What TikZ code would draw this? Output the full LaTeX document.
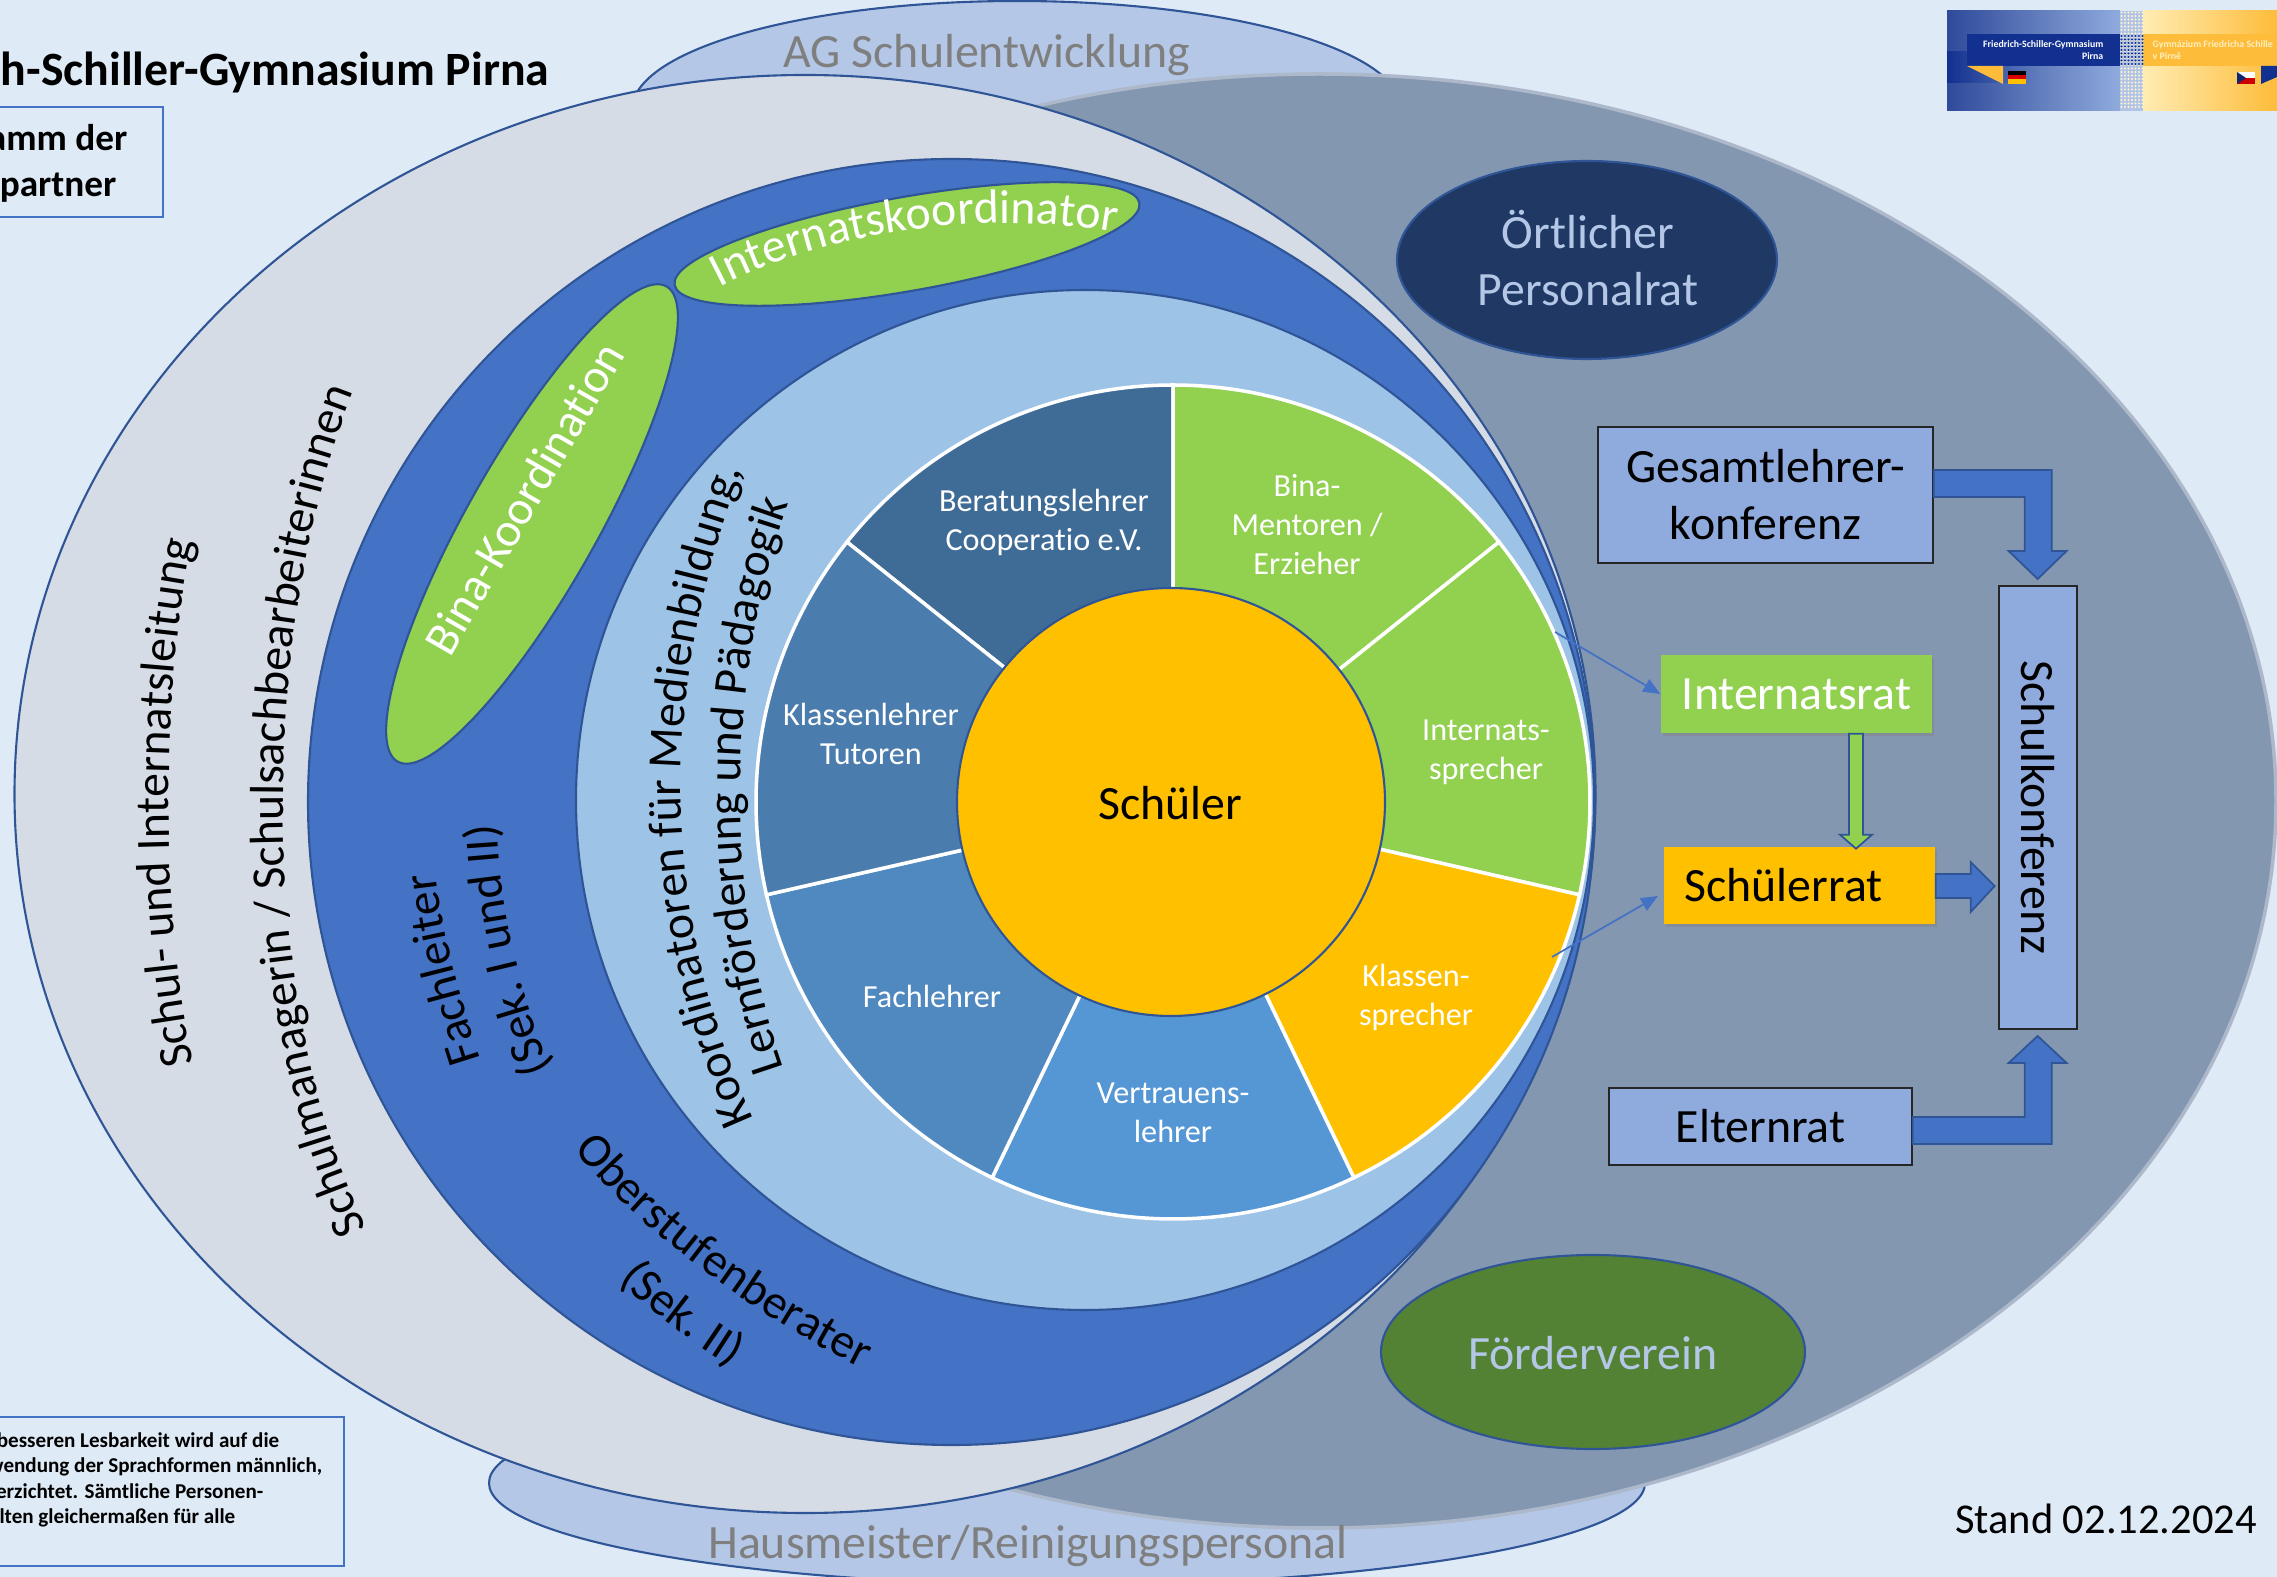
\documentclass[tikz,border=0pt]{standalone}
\usepackage{fontspec}
\setmainfont{Carlito}[Ligatures=NoCommon]
\usetikzlibrary{arrows.meta,shadows,decorations.text}
\definecolor{pagebg}{HTML}{DEEAF6}
\definecolor{ringline}{HTML}{2F5597}
\definecolor{paleblue}{HTML}{B4C7E7}
\definecolor{slate}{HTML}{8497B0}
\definecolor{slateline}{HTML}{ADB9CA}
\definecolor{ringgray}{HTML}{D6DCE5}
\definecolor{ringblue}{HTML}{4472C4}
\definecolor{ringsky}{HTML}{9DC3E6}
\definecolor{leafgreen}{HTML}{92D050}
\definecolor{amber}{HTML}{FFC000}
\definecolor{boxblue}{HTML}{8FAADC}
\definecolor{navy}{HTML}{1F3864}
\definecolor{moss}{HTML}{548235}
\definecolor{sliceA}{HTML}{3F6C97}
\definecolor{sliceB}{HTML}{4A7CAE}
\definecolor{sliceC}{HTML}{5088C0}
\definecolor{sliceD}{HTML}{5597D5}
\definecolor{grayword}{HTML}{7F7F7F}
\definecolor{logoblue}{HTML}{2F4A9A}
\definecolor{logoband}{HTML}{12308F}
\definecolor{logogold}{HTML}{FDBC3A}
\newcommand{\bigtype}{\fontsize{13.6}{16.2}\selectfont}
\newcommand{\pietype}{\fontsize{9.15}{11.1}\selectfont}
\tikzset{
	oval/.style={draw=ringline, line width=0.6pt},
	slice/.style={draw=white, line width=1pt},
	label/.style={inner sep=0pt, align=center, font=\bigtype},
	pielabel/.style={inner sep=0pt, align=center, font=\pietype, text=white},
	ratbox/.style={draw=black!85, line width=0.35pt, fill=boxblue, inner sep=0pt, align=center, font=\bigtype},
	liftbox/.style={fill=#1, inner sep=0pt, align=center, font=\bigtype, drop shadow={shadow xshift=0.02cm, shadow yshift=-0.03cm, opacity=0.45}},
	noticebox/.style={draw=ringblue, line width=0.4pt},
	noticetext/.style={inner sep=0pt, font=\bfseries\fontsize{6}{7}\selectfont},
	blockarrow/.style={draw=ringline, line width=0.5pt, fill=ringblue},
	thinarrow/.style={ringblue, line width=0.5pt, -{Triangle[length=0.17cm, width=0.14cm]}},
	curvetext/.style={decorate, decoration={text along path, text align=center, text={#1}}}
}
\begin{document}
\begin{tikzpicture}
	\useasboundingbox (0,0) rectangle (22.77,-15.77);
	\fill [pagebg] (0,0) rectangle (22.77,-15.77);

	%side ellipses and rings
	\draw [oval, fill=paleblue] (10.17,-1.10) ellipse (3.85 and 1.09);
	\draw [oval, fill=paleblue] (10.67,-14.83) ellipse (5.78 and 1.02);
	\draw [draw=slateline, line width=1pt, fill=slate] (13.19,-8.01) ellipse (9.57 and 7.27);
	\draw [oval, fill=ringgray] (8.05,-7.94) ellipse (7.905 and 7.19);
	\draw [oval, fill=ringblue] (9.515,-8.02) ellipse (6.435 and 6.43);
	\draw [oval, fill=ringsky] (10.85,-8.00) ellipse (5.09 and 5.10);
	\draw [oval, fill=leafgreen, rotate around={10:(9.07,-2.44)}] (9.07,-2.44) ellipse (2.36 and 0.47);
	\draw [oval, fill=leafgreen, rotate around={60.5:(5.32,-5.24)}] (5.32,-5.24) ellipse (2.73 and 0.65);

	%wheel
	\draw [slice, fill=sliceA] (11.73,-8.02) -- ++(90:4.17) arc (90:141.43:4.17) -- cycle;
	\draw [slice, fill=leafgreen] (11.73,-8.02) -- ++(38.57:4.17) arc (38.57:90:4.17) -- cycle;
	\draw [slice, fill=leafgreen] (11.73,-8.02) -- ++(-12.86:4.17) arc (-12.86:38.57:4.17) -- cycle;
	\draw [slice, fill=amber] (11.73,-8.02) -- ++(-64.29:4.17) arc (-64.29:-12.86:4.17) -- cycle;
	\draw [slice, fill=sliceD] (11.73,-8.02) -- ++(-115.71:4.17) arc (-115.71:-64.29:4.17) -- cycle;
	\draw [slice, fill=sliceC] (11.73,-8.02) -- ++(-167.14:4.17) arc (-167.14:-115.71:4.17) -- cycle;
	\draw [slice, fill=sliceB] (11.73,-8.02) -- ++(141.43:4.17) arc (141.43:192.86:4.17) -- cycle;
	\draw [oval, fill=amber] (11.71,-8.02) circle (2.14);

	%wheel labels
	\node [label] (schueler) at (11.70,-8.03) {Schüler};
	\node [pielabel] (beratung) at (10.44,-5.22) {Beratungslehrer\\Cooperatio e.V.};
	\node [pielabel] (mentoren) at (13.07,-5.25) {Bina-\\Mentoren /\\Erzieher};
	\node [pielabel] (internatssprecher) at (14.86,-7.52) {Internats-\\sprecher};
	\node [pielabel] (klassensprecher) at (14.16,-9.97) {Klassen-\\sprecher};
	\node [pielabel] (vertrauen) at (11.73,-11.13) {Vertrauens-\\lehrer};
	\node [pielabel] (fachlehrer) at (9.32,-9.96) {Fachlehrer};
	\node [pielabel] (klassenlehrer) at (8.71,-7.34) {Klassenlehrer\\Tutoren};

	%ring labels
	\node [label, text=grayword] (schulentwicklung) at (9.87,-0.55) {AG Schulentwicklung};
	\node [label, text=grayword] (hausmeister) at (10.28,-15.46) {Hausmeister/Reinigungspersonal};
	\path [curvetext={|\bigtype|Schul- und Internatsleitung}] (1.96,-10.75) .. controls (1.60,-9.30) and (1.60,-6.80) .. (1.95,-5.30);
	\path [curvetext={|\bigtype|Schulmanagerin / Schulsachbearbeiterinnen}] (3.65,-12.25) .. controls (2.58,-10.00) and (2.58,-6.40) .. (3.52,-3.95);
	\path [curvetext={|\bigtype|Fachleiter}] (4.80,-10.58) .. controls (4.58,-9.90) and (4.42,-9.30) .. (4.36,-8.75);
	\path [curvetext={|\bigtype|(Sek. I und II)}] (5.52,-10.70) .. controls (5.17,-9.90) and (5.00,-9.00) .. (4.97,-8.22);
	\path [curvetext={|\bigtype|Koordinatoren für Medienbildung,}] (7.56,-11.25) .. controls (6.58,-9.10) and (6.58,-6.90) .. (7.44,-4.65);
	\path [curvetext={|\bigtype|Lernförderung und Pädagogik}] (7.83,-10.67) .. controls (7.25,-9.00) and (7.25,-6.80) .. (7.88,-5.05);
	\path [curvetext={|\bigtype|Oberstufenberater}] (5.72,-11.47) .. controls (6.35,-12.27) and (7.52,-13.14) .. (8.65,-13.70);
	\path [curvetext={|\bigtype|(Sek. II)}] (6.20,-12.82) .. controls (6.50,-13.10) and (6.90,-13.42) .. (7.30,-13.66);
	\path [curvetext={|\bigtype\color{white}|Internatskoordinator}] (7.16,-2.89) .. controls (8.20,-2.33) and (9.80,-2.08) .. (11.20,-2.33);
	\node [label, text=white, rotate=60] (binakoordination) at (5.24,-4.98) {Bina-Koordination};

	%right side
	\draw [oval, fill=navy] (15.87,-2.60) ellipse (1.90 and 0.99);
	\node [label, text=paleblue] (personalrat) at (15.88,-2.58) {Örtlicher\\Personalrat};
	\draw [oval, fill=moss] (15.93,-13.52) ellipse (2.12 and 0.97);
	\node [label, text=paleblue] (foerderverein) at (15.93,-13.53) {Förderverein};

	\node [ratbox, minimum width=3.35cm, minimum height=1.36cm] (gesamtlehrer) at (17.655,-4.95) {Gesamtlehrer-\\konferenz};
	\node [ratbox, minimum width=3.03cm, minimum height=0.77cm] (elternrat) at (17.605,-11.265) {Elternrat};
	\node [ratbox, rotate=-90, minimum width=4.43cm, minimum height=0.78cm] (schulkonferenz) at (20.38,-8.075) {Schulkonferenz};
	\node [liftbox=leafgreen, text=white, minimum width=2.71cm, minimum height=0.78cm] (internatsrat) at (17.965,-6.94) {Internatsrat};
	\node [liftbox=amber, minimum width=2.71cm, minimum height=0.77cm] (schuelerrat) at (17.995,-8.855) {Schülerrat\hspace{0.32cm}};

	\draw [blockarrow] ([yshift=0.25cm]gesamtlehrer.east) -- ++(1.18,0) -- ++(0,-0.81) -- ++(0.15,0) -- ++(-0.29,-0.28) -- ++(-0.29,0.28) -- ++(0.16,0) -- ++(0,0.54) -- ++(-0.91,0) -- cycle;
	\draw [blockarrow] ([yshift=-0.175cm]elternrat.east) -- ++(1.39,0) -- ++(0,0.81) -- ++(0.15,0) -- ++(-0.29,0.27) -- ++(-0.29,-0.27) -- ++(0.16,0) -- ++(0,-0.54) -- ++(-1.12,0) -- cycle;
	\draw [blockarrow] ([yshift=0.115cm]schuelerrat.east) -- ++(0.35,0) -- ++(0,0.12) -- ++(0.24,-0.24) -- ++(-0.24,-0.26) -- ++(0,0.14) -- ++(-0.35,0) -- cycle;
	\draw [blockarrow, fill=leafgreen] ([xshift=0.525cm]internatsrat.south) -- ++(0.14,0) -- ++(0,-1.01) -- ++(0.09,0) -- ++(-0.16,-0.14) -- ++(-0.16,0.14) -- ++(0.09,0) -- cycle;

	\coordinate (sprecherA) at (15.55,-6.32);
	\coordinate (sprecherB) at (15.52,-9.57);
	\coordinate (schuelerratIn) at (16.58,-8.96);
	\draw [thinarrow] (sprecherA) -- (internatsrat.west);
	\draw [thinarrow] (sprecherB) -- (schuelerratIn);

	%title and notices
	\node [inner sep=0pt, anchor=base east, font=\bfseries\fontsize{13.6}{15}\selectfont] (titel) at (5.50,-0.86) {h-Schiller-Gymnasium Pirna};
	\draw [noticebox] (-0.2,-1.07) rectangle (1.63,-2.17);
	\node [noticetext, anchor=base east, font=\bfseries\fontsize{10.6}{12}\selectfont] (kopfA) at (1.28,-1.51) {amm der};
	\node [noticetext, anchor=base east, font=\bfseries\fontsize{10.6}{12}\selectfont] (kopfB) at (1.17,-1.97) {partner};
	\draw [noticebox] (-0.2,-14.17) rectangle (3.44,-15.66);
	\node [noticetext, anchor=base east] (hinweisA) at (2.80,-14.47) {besseren Lesbarkeit wird auf die};
	\node [noticetext, anchor=base east] (hinweisB) at (3.23,-14.72) {wendung der Sprachformen männlich,};
	\node [noticetext, anchor=base east] (hinweisC) at (2.64,-14.98) {erzichtet. Sämtliche Personen-};
	\node [noticetext, anchor=base east] (hinweisD) at (2.36,-15.23) {lten gleichermaßen für alle};
	\node [inner sep=0pt, font=\fontsize{12.1}{14}\selectfont] (stand) at (21.06,-15.19) {Stand 02.12.2024};

	%logo
	\shade [left color=logoblue, right color=boxblue] (19.47,-0.11) rectangle (21.20,-1.11);
	\shade [left color=logoband, right color=logoblue!46!boxblue] (19.47,-0.52) rectangle (20.40,-0.83);
	\shade [left color=amber!30, right color=logogold] (21.43,-0.11) rectangle (22.77,-1.11);
	\fill [boxblue!70] (21.20,-0.11) rectangle (21.43,-1.11);
	\fill [logoband] (19.67,-0.34) rectangle (21.20,-0.66);
	\fill [logogold] (21.43,-0.34) rectangle (22.77,-0.66);
	\foreach \col in {0,...,6}
		\foreach \row in {0,...,27}
			\fill [white!80!amber] (21.215+\col*0.035,-0.125-\row*0.035) circle (0.011);
	\foreach \col in {0,...,6}
		\foreach \row in {0,...,8}
			\fill [logoband] (21.215+\col*0.035,-0.36-\row*0.035) circle (0.012);
	\fill [logogold] (19.67,-0.66) -- (20.03,-0.66) -- (20.03,-0.84) -- cycle;
	\fill [black] (20.08,-0.71) rectangle (20.26,-0.75);
	\fill [red!85!black] (20.08,-0.75) rectangle (20.26,-0.795);
	\fill [amber] (20.08,-0.795) rectangle (20.26,-0.84);
	\fill [white] (22.37,-0.72) rectangle (22.55,-0.78);
	\fill [red!80!black] (22.37,-0.78) rectangle (22.55,-0.84);
	\fill [logoband!80!black] (22.37,-0.72) -- (22.46,-0.78) -- (22.37,-0.84) -- cycle;
	\fill [logoband] (22.61,-0.66) -- (22.77,-0.66) -- (22.77,-0.77) -- (22.61,-0.84) -- cycle;
	\node [inner sep=0pt, align=right, text=white, font=\bfseries\fontsize{2.8}{3.6}\selectfont, anchor=east] (logoDe) at (21.04,-0.50) {Friedrich-Schiller-Gymnasium\\Pirna};
	\node [inner sep=0pt, align=left, text=amber!25, font=\bfseries\fontsize{2.8}{3.6}\selectfont, anchor=west] (logoCz) at (21.52,-0.50) {Gymnázium Friedricha Schille\\ v Pirně};
\end{tikzpicture}
\end{document}
